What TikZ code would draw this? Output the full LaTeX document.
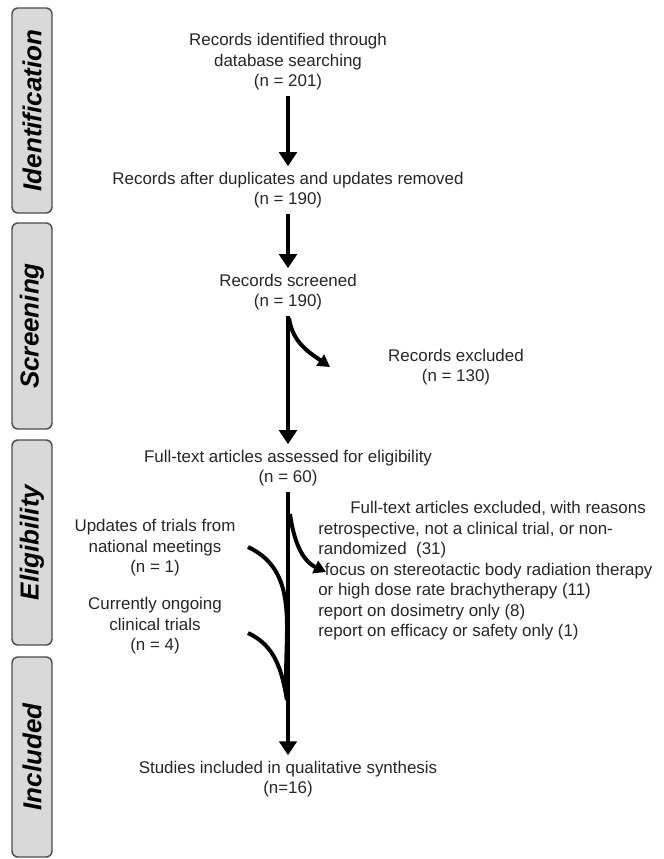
\documentclass[tikz,border=0pt]{standalone}
\usepackage{fontspec}
\setmainfont{Liberation Sans}
\usetikzlibrary{arrows.meta}

\tikzset{
  phase/.style={draw=black!70, fill=black!15, line width=1.1pt,
    rounded corners=4.5pt, rotate=90, minimum height=30pt, inner sep=0pt,
    font=\fontsize{19.5}{22}\selectfont\bfseries\itshape},
  txt/.style={align=center, inner xsep=0pt, inner ysep=4pt, text=black!85,
    font=\fontsize{12.7}{15.4}\selectfont},
  flow/.style={line width=3.5pt, -{Triangle[width=13pt,length=10.5pt]}},
  branch/.style={line width=3pt, -{Triangle[width=10pt,length=9pt]}},
  merge/.style={line width=3pt},
}

\begin{document}
\begin{tikzpicture}[x=0.75pt,y=-0.75pt]
  \useasboundingbox (0,0) rectangle (663,859);
  % phase boxes on the left
  \node[phase, minimum width=153.75pt] (pI) at (32,110.5) {Identification};
  \node[phase, minimum width=154.5pt]  (pS) at (32,326)   {Screening};
  \node[phase, minimum width=153.75pt] (pE) at (32,542.5) {Eligibility};
  \node[phase, minimum width=150pt]    (pN) at (32,757)   {Included};

  % main column
  \node[txt] (ident) at (288,62)  {Records identified through\\database searching\\(n = 201)};
  \node[txt] (dup)   at (288,190) {Records after duplicates and updates removed\\(n = 190)};
  \node[txt] (scr)   at (288,292) {Records screened\\(n = 190)};
  \node[txt] (elig)  at (288,468) {Full-text articles assessed for eligibility\\(n = 60)};
  \node[txt] (incl)  at (288,779) {Studies included in qualitative synthesis\\(n=16)};

  % side texts
  \node[txt] (excl) at (456,367) {Records excluded\\(n = 130)};
  \node[txt, align=left, anchor=west] (why) at (318,571)
    {\hspace*{24pt}Full-text articles excluded, with reasons\\
     retrospective, not a clinical trial, or non-\\
     randomized\ \ (31)\\
     \hspace*{5pt}focus on stereotactic body radiation therapy\\
     or high dose rate brachytherapy (11)\\
     report on dosimetry only (8)\\
     report on efficacy or safety only (1)};
  \node[txt] (upd) at (155,548) {Updates of trials from\\national meetings\\(n = 1)};
  \node[txt] (ong) at (155,626) {Currently ongoing\\clinical trials\\(n = 4)};

  \draw[flow] (ident) -- (dup);
  \draw[flow] (dup) -- (scr);
  \draw[flow] (scr) -- (elig);
  \draw[flow] (elig) -- (incl);

  % exclusions
  \coordinate (s0) at (289,318);
  \coordinate (s1) at (330,367);
  \draw[branch] (s0) to[out=-82,in=145] (s1);
  \coordinate (e0) at (290,514);
  \coordinate (e1) at (326,572);
  \draw[branch] (e0) to[out=-82,in=155] (e1);

  % extra studies joining the main line
  \coordinate (u0) at (248,547);
  \coordinate (o0) at (248,633);
  \coordinate (m0) at (287,700);
  \draw[merge] (u0) to[out=-25,in=95] (m0);
  \draw[merge] (o0) to[out=-25,in=100] (m0);
\end{tikzpicture}
\end{document}
